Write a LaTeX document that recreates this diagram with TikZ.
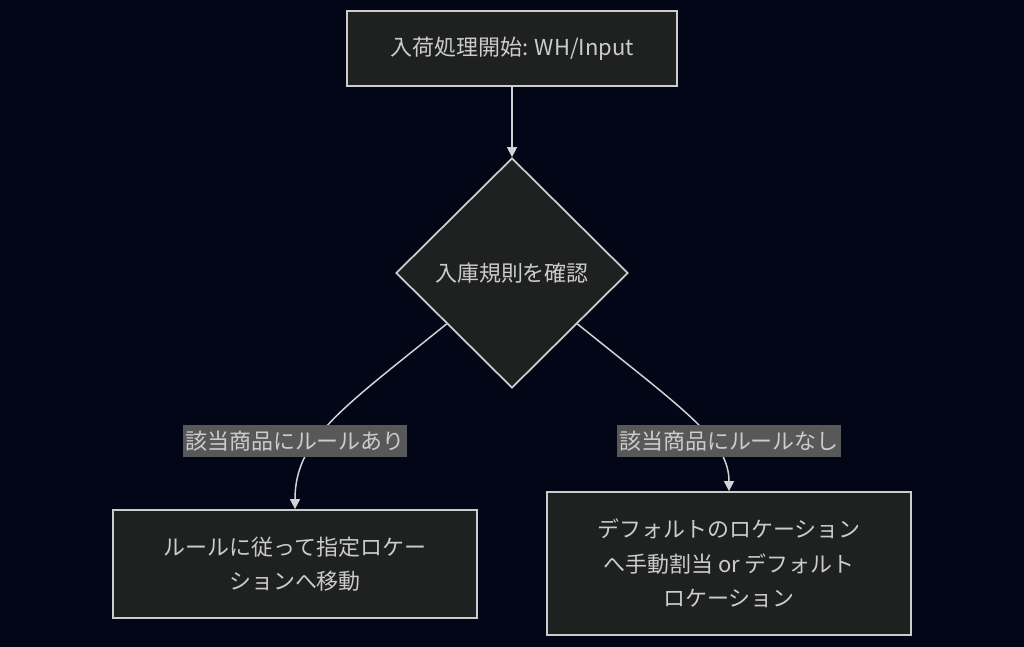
\documentclass[tikz,border=0pt]{standalone}
\usepackage{fontspec}
\setmainfont{Noto Sans CJK JP}
\usetikzlibrary{shapes.geometric,arrows.meta}
\usetikzlibrary{calc,positioning}

\definecolor{bgcol}{HTML}{020617}
\definecolor{nodefill}{HTML}{1F2020}
\definecolor{nodeline}{HTML}{CCCCCC}
\definecolor{txtcol}{HTML}{CCCCCC}
\definecolor{lblfill}{HTML}{585858}
\definecolor{edgecol}{HTML}{D3D3D3}

\begin{document}
\begin{tikzpicture}[
    font=\fontsize{12.5}{19.6}\selectfont,
    box/.style={draw=nodeline, line width=1pt, fill=nodefill, text=txtcol,
        align=center, inner sep=0pt},
    decide/.style={box, diamond, minimum width=4.64cm, minimum height=4.6cm},
    edgelbl/.style={fill=lblfill, text=txtcol, inner xsep=1pt, inner ysep=0pt,
        minimum height=0.64cm},
    flow/.style={draw=edgecol, line width=0.85pt,
        -{Triangle[length=0.2cm,width=0.2cm]}},
 ]
    \fill[bgcol] (0,0) rectangle (20.48,-12.94);
    \useasboundingbox (0,0) rectangle (20.48,-12.94);

    \node[box, minimum width=6.6cm, minimum height=1.5cm] (start) at (10.24,-0.97)
        {入荷処理開始: WH/Input};
    \node[decide] (check) at (10.24,-5.46) {入庫規則を確認};
    \node[box, minimum width=7.28cm, minimum height=2.16cm] (rule) at (5.9,-11.28)
        {ルールに従って指定ロケー\\ションへ移動};
    \node[box, minimum width=7.28cm, minimum height=2.86cm] (deflt) at (14.58,-11.27)
        {デフォルトのロケーション\\へ手動割当 or デフォルト\\ロケーション};

    \coordinate (L0) at ($(check.west)!0.44!(check.south)$);
    \coordinate (R0) at ($(check.east)!0.44!(check.south)$);

    \draw[flow] (start) -- (check);
    \draw[flow] (L0) .. controls (6.8,-8.2) and (5.9,-8.8) .. (rule.north);
    \draw[flow] (R0) .. controls (13.68,-8.2) and (14.58,-8.8) .. (deflt.north);

    \node[edgelbl] (yes) at (5.9,-8.82) {該当商品にルールあり};
    \node[edgelbl] (no) at (14.58,-8.82) {該当商品にルールなし};

\end{tikzpicture}
\end{document}
